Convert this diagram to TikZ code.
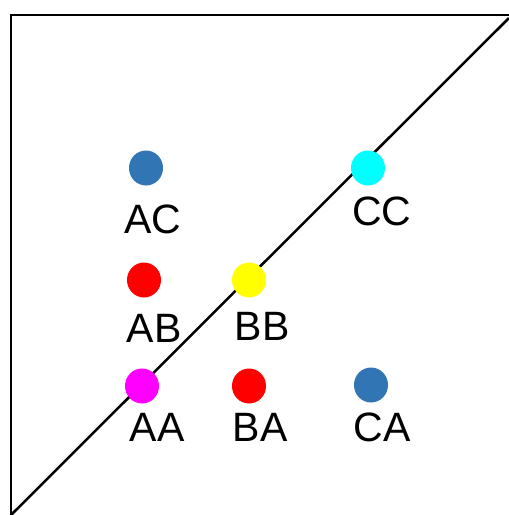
\documentclass[tikz,border=0pt]{standalone}
\usepackage{fontspec}
\setmainfont{Liberation Sans}
\usetikzlibrary{shapes.geometric}
\definecolor{dotblue}{HTML}{3175B5}
\definecolor{dotred}{HTML}{FF0000}
\definecolor{dotyellow}{HTML}{FFFF00}
\definecolor{dotcyan}{HTML}{00FFFF}
\definecolor{dotmagenta}{HTML}{FF00FF}
\tikzset{
  dot/.style={ellipse, inner sep=0pt, minimum width=34pt, minimum height=35pt, fill=#1, draw=none},
  lbl/.style={anchor=base, inner sep=0pt, font=\fontsize{41}{41}\selectfont},
  frame/.style={draw=black, line width=2.5pt},
  diag/.style={draw=black, line width=2.5pt}
}
\begin{document}
\begin{tikzpicture}[x=1pt,y=-1pt]
\useasboundingbox[fill=white] (0,0) rectangle (509,515);
\coordinate (tl) at (11,15);
\coordinate (tr) at (509,15);
\coordinate (bl) at (11,515);
\coordinate (de) at (509,18);
\coordinate (ds) at (11,515);
\draw[frame] (bl) -- (tl) -- (tr);
\draw[diag] (ds) -- (de);
\node[dot=dotblue] (acdot) at (146,168) {};
\node[lbl] (ac) at (153,233) {AC};
\node[dot=dotred] (abdot) at (144,280) {};
\node[lbl] (ab) at (154,342) {AB};
\node[dot=dotyellow] (bbdot) at (249,280) {};
\node[lbl] (bb) at (262,340) {BB};
\node[dot=dotcyan] (ccdot) at (368,168) {};
\node[lbl] (cc) at (382,225) {CC};
\node[dot=dotmagenta] (aadot) at (142,386) {};
\node[lbl] (aa) at (157,441) {AA};
\node[dot=dotred] (badot) at (249,386) {};
\node[lbl] (ba) at (260,441) {BA};
\node[dot=dotblue] (cadot) at (371,385) {};
\node[lbl] (ca) at (382,441) {CA};
\end{tikzpicture}
\end{document}
